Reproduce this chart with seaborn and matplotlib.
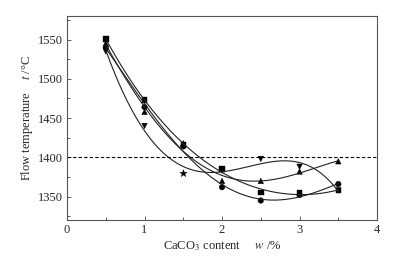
import numpy as np
import pandas as pd
import seaborn as sns
import matplotlib
matplotlib.use("Agg")
import matplotlib.pyplot as plt
from matplotlib.ticker import MultipleLocator

# CaCO3 content (w/%) and flow temperature (t/°C) of four samples
content = [0.5, 1.0, 1.5, 2.0, 2.5, 3.0, 3.5]
t_square = [1551, 1473, 1416, 1385, 1355, 1355, 1358]
t_circle = [1540, 1464, 1414, 1362, 1345, 1352, 1366]
t_up = [1545, 1458, 1418, 1370, 1370, 1382, 1395]
t_down = [1535, 1440, 1380, 1383, 1398, 1388, 1358]
series_names = ["square", "circle", "up", "down"]
markers = ["s", "o", "^", "v"]
flow_limit = 1400

df = pd.DataFrame({"w": content * 4,
                   "t": t_square + t_circle + t_up + t_down,
                   "sample": np.repeat(series_names, len(content))})

sns.set_theme(style="ticks")
plt.rcParams["font.family"] = ["Liberation Serif", "DejaVu Serif"]
plt.rcParams["mathtext.fontset"] = "stix"

fig, ax = plt.subplots(figsize=(3.99, 2.59), dpi=100)
fig.subplots_adjust(left=0.168, right=0.945, top=0.938, bottom=0.15)

# smooth fitted curves
xs = np.linspace(0.5, 3.5, 200)
for name in series_names:
    sub = df[df["sample"] == name]
    coef = np.polyfit(sub["w"], sub["t"], 4)
    sns.lineplot(x=xs, y=np.polyval(coef, xs), ax=ax, color="#222222", lw=0.8)

# data points; the down-triangle sample at 1.5 is drawn as a star
mask_star = (df["sample"] == "down") & (df["w"] == 1.5)
sns.scatterplot(data=df[~mask_star], x="w", y="t", style="sample",
                markers=dict(zip(series_names, markers)), color="black",
                s=16, edgecolor="black", linewidth=0.3, legend=False, ax=ax)
sns.scatterplot(data=df[mask_star], x="w", y="t", marker="*", color="black",
                s=30, edgecolor="black", linewidth=0.3, legend=False, ax=ax)

ax.axhline(flow_limit, color="black", lw=0.8, ls=(0, (3, 2)))

ax.set_xlim(0, 4)
ax.set_ylim(1320, 1580)
ax.xaxis.set_major_locator(MultipleLocator(1))
ax.xaxis.set_minor_locator(MultipleLocator(0.5))
ax.yaxis.set_major_locator(MultipleLocator(50))
ax.yaxis.set_minor_locator(MultipleLocator(25))
ax.tick_params(which="both", direction="in", labelsize=9, width=0.6,
               color="#444444", pad=3)
ax.tick_params(which="major", length=3)
ax.tick_params(which="minor", length=2)
for sp in ax.spines.values():
    sp.set_linewidth(0.8)
    sp.set_color("#555555")

ax.set_xlabel(r"CaCO$_3$ content     $w$ /%", fontsize=9, labelpad=2)
ax.set_ylabel(r"Flow temperature    $t$ /°C", fontsize=9, labelpad=2)

fig.savefig("out.png", dpi=100)
